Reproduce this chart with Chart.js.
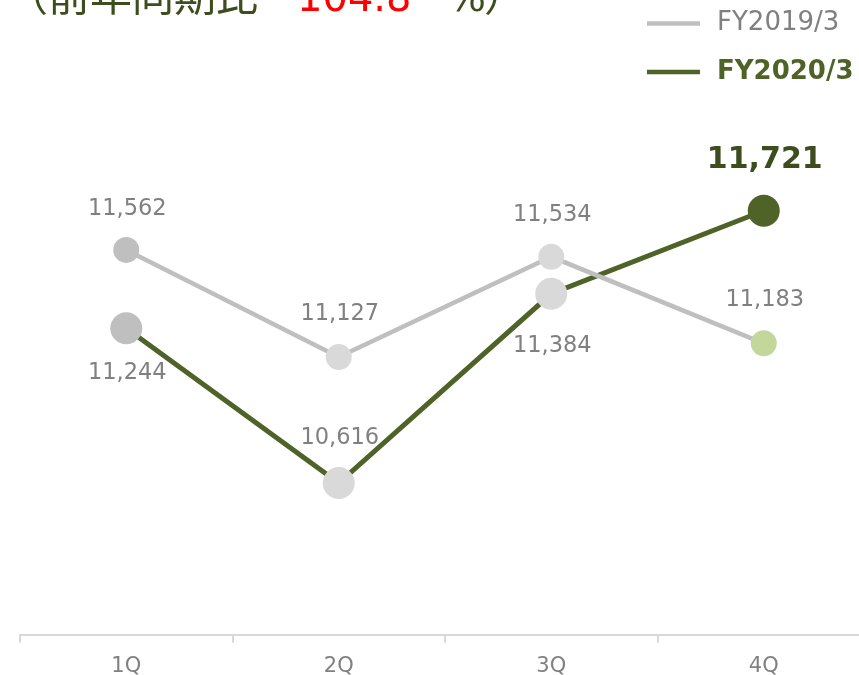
<!DOCTYPE html>
<html>
<head>
<meta charset="utf-8">
<script src="https://cdn.jsdelivr.net/npm/chart.js@4"></script>
<style>
  html, body { margin: 0; padding: 0; overflow: hidden; background: #fff; }
</style>
</head>
<body>
<canvas id="salesChart" width="900" height="690"></canvas>
<script>
// data
const labels = ['1Q', '2Q', '3Q', '4Q'];
const fy2019 = [11562, 11127, 11534, 11183];
const fy2020 = [11244, 10616, 11384, 11721];
const seriesNames = ['FY2019/3', 'FY2020/3'];
const yoyLabel = '（前年同期比';
const yoyRate = '104.8';

const ctx = document.getElementById('salesChart').getContext('2d');
const FONT = "'DejaVu Sans', Verdana, sans-serif";
const DARK = '#3e4d1d';

// value labels next to each point
const valueLabels = {
  id: 'valueLabels',
  afterDatasetsDraw(chart) {
    const c = chart.ctx;
    c.save();
    c.textAlign = 'center';
    c.textBaseline = 'middle';
    chart.data.datasets.forEach((ds, i) => {
      const meta = chart.getDatasetMeta(i);
      meta.data.forEach((pt, j) => {
        const txt = ds.data[j].toLocaleString('en-US');
        if (ds.highlight === j) {
          c.font = 'bold 30px ' + FONT;
          c.fillStyle = DARK;
        } else {
          c.font = '22.5px ' + FONT;
          c.fillStyle = '#808080';
        }
        c.fillText(txt, pt.x + 1, pt.y + ds.labelOffset[j]);
      });
    });
    c.restore();
  }
};

// title fragment and legend at the top
const header = {
  id: 'header',
  afterDraw(chart) {
    const c = chart.ctx;
    c.save();
    c.textBaseline = 'alphabetic';
    c.textAlign = 'left';
    c.font = "42px 'Noto Sans CJK JP', sans-serif";
    c.fillStyle = DARK;
    c.fillText(yoyLabel, 6, 11);
    c.font = '40px ' + FONT;
    c.fillStyle = '#ff0000';
    c.fillText(yoyRate, 297, 11);
    c.fillStyle = DARK;
    c.fillText('%', 448, 11);
    c.font = "42px 'Noto Sans CJK JP', sans-serif";
    c.fillText('）', 484, 11);

    // legend
    const items = [
      { y: 23.5, color: '#bfbfbf', text: '#808080', font: '26px ' + FONT },
      { y: 72, color: '#4f6228', text: '#4f6228', font: 'bold 26px ' + FONT }
    ];
    items.forEach((it, i) => {
      c.strokeStyle = it.color;
      c.lineWidth = 4.5;
      c.beginPath();
      c.moveTo(647, it.y);
      c.lineTo(700, it.y);
      c.stroke();
      c.font = it.font;
      c.fillStyle = it.text;
      c.textBaseline = 'middle';
      c.fillText(seriesNames[i], 717, it.y);
    });
    c.restore();
  }
};

const data = {
  labels,
  datasets: [
    {
      label: seriesNames[0],
      data: fy2019,
      borderColor: '#bfbfbf',
      borderWidth: 4.5,
      pointRadius: 13,
      pointBorderWidth: 0,
      pointBackgroundColor: ['#bfbfbf', '#d9d9d9', '#d9d9d9', '#c4d79b'],
      labelOffset: [-41, -43, -42, -43],
      tension: 0,
      clip: false
    },
    {
      label: seriesNames[1],
      data: fy2020,
      borderColor: '#4f6228',
      borderWidth: 5,
      pointRadius: 16,
      pointBorderWidth: 0,
      pointBackgroundColor: ['#bfbfbf', '#d9d9d9', '#d9d9d9', '#4f6228'],
      labelOffset: [45, -45, 52, -51],
      highlight: 3,
      tension: 0,
      clip: false
    }
  ]
};

const config = {
  type: 'line',
  data: data,
  options: {
    responsive: false,
    animation: false,
    events: [],
    devicePixelRatio: 1,
    layout: { padding: { left: 20, right: 30, top: 142, bottom: 0 } },
    plugins: {
      legend: { display: false },
      tooltip: { enabled: false }
    },
    scales: {
      x: {
        offset: true,
        grid: {
          offset: true,
          drawOnChartArea: false,
          drawTicks: true,
          tickLength: 8,
          color: '#d9d9d9',
          lineWidth: 2
        },
        border: { color: '#d9d9d9', width: 2 },
        ticks: {
          color: '#808080',
          padding: 11,
          font: { size: 21, family: FONT }
        }
      },
      y: {
        display: false,
        min: 10000,
        max: 12000
      }
    }
  },
  plugins: [valueLabels, header]
};

new Chart(ctx, config);
</script>
</body>
</html>
